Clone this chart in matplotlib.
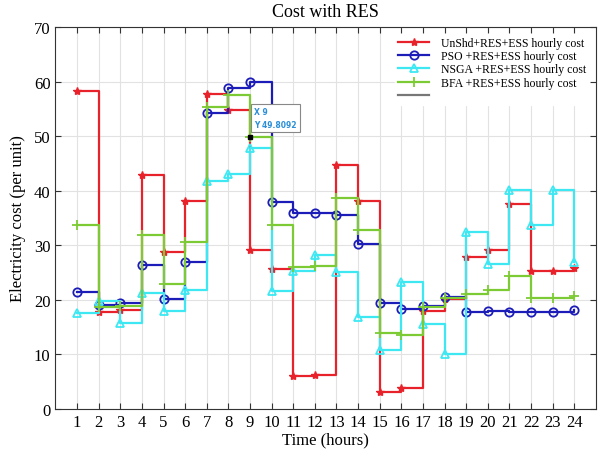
import matplotlib
matplotlib.use('Agg')
import matplotlib.pyplot as plt
from matplotlib.lines import Line2D
import numpy as np

# ── Data ──
hours = list(range(1, 25))

unshd = [58.3, 17.8, 18.2, 42.9, 28.7, 38.1, 57.7, 54.8, 29.2, 25.6, 6.0, 6.2,
         44.8, 38.1, 3.2, 3.9, 17.9, 20.1, 27.8, 29.2, 37.5, 25.3, 25.3, 25.8]
pso = [21.5, 19.1, 19.5, 26.3, 20.1, 26.9, 54.2, 58.9, 60.0, 37.9, 36.0, 36.0,
       35.5, 30.2, 19.4, 18.3, 18.9, 20.5, 17.7, 18.0, 17.8, 17.8, 17.8, 18.2]
nsga = [17.5, 19.7, 15.7, 21.3, 17.9, 21.8, 41.8, 43.1, 47.8, 21.6, 25.3, 28.2,
        25.1, 16.9, 10.8, 23.2, 15.5, 10.0, 32.4, 26.6, 40.1, 33.8, 40.2, 27.0]
bfa = [33.7, 18.7, 18.8, 31.8, 22.9, 30.6, 55.4, 57.5, 49.8092, 33.7, 26.0, 26.2,
       38.6, 32.8, 13.9, 13.5, 18.7, 20.4, 21.1, 21.8, 24.3, 20.3, 20.3, 20.7]

labels = ["UnShd+RES+ESS hourly cost", "PSO +RES+ESS hourly cost",
          "NSGA +RES+ESS hourly cost", "BFA +RES+ESS hourly cost"]

tip_x, tip_y = 9, 49.8092

# ── Style ──
plt.rcParams['font.family'] = ['Liberation Serif', 'DejaVu Serif']

fig = plt.figure(figsize=(6.02, 4.52), dpi=100)
ax = fig.add_axes([0.092, 0.093, 0.898, 0.845])

styles = [
    dict(color="#e8222a", marker="*", ms=6, mfc="#e8222a"),
    dict(color="#1c1cb8", marker="o", ms=6, mfc="none", mew=1.3),
    dict(color="#3de8f2", marker="^", ms=6, mfc="none", mew=1.3),
    dict(color="#7dcb34", marker="+", ms=7, mew=1.3),
]

for series, lab, st in zip([unshd, pso, nsga, bfa], labels, styles):
    ax.step(hours, series, where="post", lw=1.6, label=lab, **st)

# data tip
ax.plot(tip_x, tip_y, "s", color="black", ms=2.5, zorder=6)
ax.text(tip_x + 0.2, tip_y + 1.5, "X 9\nY 49.8092", fontsize=5.5,
        family="DejaVu Sans", color="#2a8fd8", va="bottom", ha="left",
        linespacing=1.6, fontweight="bold",
        bbox=dict(boxstyle="square,pad=0.4", fc="white", ec="#888888", lw=0.8),
        zorder=7)

ax.set_xlim(0, 25)
ax.set_ylim(0, 70)
ax.set_xticks(hours)
ax.set_yticks(np.arange(0, 71, 10))
ax.tick_params(direction="in", top=True, right=True, labelsize=12, length=4,
               color="#333333")
ax.grid(True, color="#e2e2e2", lw=0.8)
ax.set_axisbelow(True)
for sp in ax.spines.values():
    sp.set_color("#333333")
    sp.set_linewidth(0.8)

ax.set_title("Cost with RES", fontsize=13, pad=8)
ax.set_xlabel("Time (hours)", fontsize=12, labelpad=1)
ax.set_ylabel("Electricity cost (per unit)", fontsize=12, labelpad=6)

handles, labs = ax.get_legend_handles_labels()
handles.append(Line2D([0], [0], color="#777777", lw=1.6))
labs.append("")
ax.legend(handles, labs, loc="upper right", bbox_to_anchor=(0.998, 0.998),
          fontsize=8.5, frameon=True, edgecolor="white", framealpha=1,
          fancybox=False, handlelength=2.6, labelspacing=0.12,
          borderpad=0.25, handletextpad=1.0)

fig.savefig("out.png", dpi=100)
